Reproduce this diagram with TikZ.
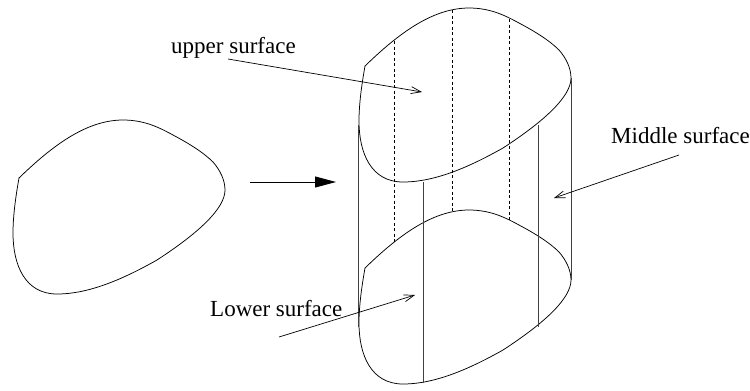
\documentclass[tikz,border=0pt]{standalone}
\usepackage{fontspec}
\setmainfont{Liberation Serif}
\usetikzlibrary{arrows.meta}
\tikzset{
  outline/.style={draw=black,line width=0.75bp,line join=round},
  wall/.style={draw=black!75,line width=0.9bp},
  hidden/.style={draw=black,line width=0.75bp,dash pattern=on 3bp off 2.5bp},
  pointer/.style={draw=black,line width=0.7bp,-{Straight Barb[length=10bp,width=7bp]}},
  solidarrow/.style={draw=black,line width=0.9bp,-{Triangle[length=21bp,width=11bp]}},
  caption/.style={font=\fontsize{23bp}{25bp}\selectfont,inner sep=0pt,anchor=base west}
}
\newcommand{\blobpath}{(19,178) .. controls (50,148) and (85,120) .. (123,120) .. controls (145,120) and (160,128) .. (173,135) .. controls (188,143) and (203,152) .. (213,162) .. controls (220,170) and (225,180) .. (225,190) .. controls (225,208) and (200,232) .. (157,260) .. controls (125,278) and (90,294) .. (57,294) .. controls (25,294) and (13,265) .. (13,233) .. controls (13,215) and (16,195) .. (19,178) -- cycle}
\begin{document}
\begin{tikzpicture}[x=1bp,y=-1bp]
\useasboundingbox (0,0) rectangle (750,390);
\coordinate (p1) at (358,125);
\coordinate (p2) at (358,327);
\coordinate (p3) at (423,182);
\coordinate (p4) at (423,383);
\coordinate (p5) at (538,125);
\coordinate (p6) at (538,327);
\coordinate (p7) at (571,78);
\coordinate (p8) at (571,280);
\coordinate (d1) at (394,41);
\coordinate (d2) at (394,242);
\coordinate (d3) at (452,10);
\coordinate (d4) at (452,213);
\coordinate (d5) at (509,19);
\coordinate (d6) at (509,220);
\draw[outline] \blobpath;
\begin{scope}[shift={(346,-112)}]\draw[outline] \blobpath;\end{scope}
\begin{scope}[shift={(346,90)}]\draw[outline] \blobpath;\end{scope}
\draw[wall] (p1) -- (p2);
\draw[wall] (p3) -- (p4);
\draw[wall] (p5) -- (p6);
\draw[wall] (p7) -- (p8);
\draw[hidden] (d1) -- (d2);
\draw[hidden] (d3) -- (d4);
\draw[hidden] (d5) -- (d6);
\coordinate (a1) at (250,182);
\coordinate (a2) at (336,182);
\draw[solidarrow] (a1) -- (a2);
\node[caption] (upper) at (171,53) {upper surface};
\node[caption] (middle) at (611,143) {Middle surface};
\node[caption] (lower) at (210,316) {Lower surface};
\coordinate (u1) at (228,59);
\coordinate (u2) at (422,92);
\draw[pointer] (u1) -- (u2);
\coordinate (m1) at (679,155);
\coordinate (m2) at (554,198);
\draw[pointer] (m1) -- (m2);
\coordinate (l1) at (279,337);
\coordinate (l2) at (415,295);
\draw[pointer] (l1) -- (l2);
\end{tikzpicture}
\end{document}
